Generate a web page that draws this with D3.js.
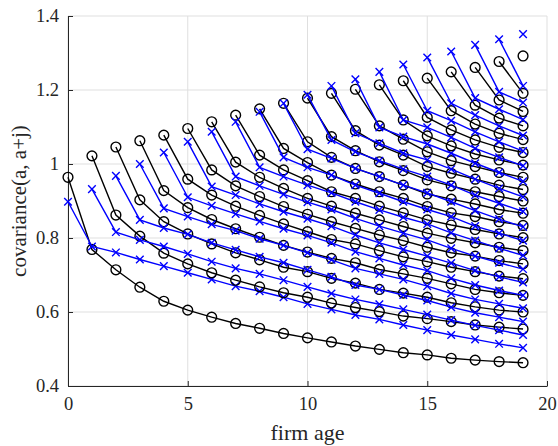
<!DOCTYPE html>
<html>
<head>
<meta charset="utf-8">
<script src="https://cdn.jsdelivr.net/npm/d3@7"></script>
<style>
  body { margin: 0; background: #fff; }
  text { font-family: "Liberation Serif", "DejaVu Serif", serif; fill: #262626; }
</style>
</head>
<body>
<div id="graphic"></div>
<script>
// ages at which each line starts (line a runs from age a to 19)
var ages = d3.range(0, 20);

// black (circles): covariance(a, a+j), one array per starting age a
var dataCov = [
  [0.964, 0.769, 0.714, 0.667, 0.629, 0.605, 0.586, 0.569, 0.556, 0.542, 0.530, 0.519, 0.508, 0.499, 0.490, 0.484, 0.475, 0.470, 0.466, 0.463],
  [1.022, 0.862, 0.805, 0.759, 0.730, 0.706, 0.686, 0.668, 0.652, 0.640, 0.624, 0.612, 0.601, 0.589, 0.582, 0.574, 0.565, 0.559, 0.554],
  [1.046, 0.903, 0.844, 0.811, 0.784, 0.760, 0.741, 0.721, 0.709, 0.691, 0.678, 0.661, 0.651, 0.640, 0.625, 0.614, 0.605, 0.600],
  [1.063, 0.928, 0.882, 0.850, 0.825, 0.802, 0.780, 0.762, 0.745, 0.733, 0.715, 0.703, 0.691, 0.676, 0.661, 0.652, 0.645],
  [1.078, 0.959, 0.916, 0.886, 0.861, 0.838, 0.817, 0.796, 0.784, 0.766, 0.749, 0.736, 0.721, 0.709, 0.697, 0.690],
  [1.096, 0.984, 0.941, 0.912, 0.885, 0.864, 0.844, 0.826, 0.808, 0.793, 0.775, 0.760, 0.751, 0.739, 0.730],
  [1.114, 1.005, 0.964, 0.934, 0.907, 0.886, 0.867, 0.849, 0.831, 0.813, 0.799, 0.787, 0.775, 0.766],
  [1.132, 1.024, 0.984, 0.955, 0.925, 0.907, 0.886, 0.868, 0.849, 0.835, 0.823, 0.811, 0.801],
  [1.149, 1.042, 1.004, 0.970, 0.946, 0.925, 0.907, 0.885, 0.868, 0.858, 0.844, 0.834],
  [1.164, 1.060, 1.018, 0.988, 0.966, 0.943, 0.919, 0.905, 0.892, 0.877, 0.867],
  [1.178, 1.074, 1.036, 1.006, 0.982, 0.957, 0.941, 0.925, 0.912, 0.900],
  [1.191, 1.090, 1.051, 1.024, 0.993, 0.975, 0.959, 0.943, 0.931],
  [1.202, 1.103, 1.067, 1.033, 1.009, 0.993, 0.977, 0.964],
  [1.214, 1.119, 1.076, 1.049, 1.027, 1.011, 0.997],
  [1.225, 1.126, 1.092, 1.065, 1.045, 1.031],
  [1.232, 1.144, 1.108, 1.083, 1.066],
  [1.249, 1.159, 1.124, 1.103],
  [1.261, 1.173, 1.142],
  [1.277, 1.191],
  [1.292]
];

// blue (crosses): model covariance(a, a+j)
var modelCov = [
  [0.898, 0.777, 0.761, 0.742, 0.724, 0.706, 0.688, 0.670, 0.656, 0.640, 0.622, 0.607, 0.592, 0.580, 0.565, 0.551, 0.538, 0.526, 0.514, 0.503],
  [0.932, 0.816, 0.795, 0.777, 0.757, 0.736, 0.718, 0.703, 0.686, 0.668, 0.650, 0.634, 0.621, 0.607, 0.593, 0.578, 0.564, 0.551, 0.538],
  [0.968, 0.849, 0.827, 0.810, 0.787, 0.768, 0.749, 0.733, 0.714, 0.695, 0.673, 0.661, 0.646, 0.631, 0.613, 0.598, 0.586, 0.574],
  [1.000, 0.880, 0.858, 0.837, 0.820, 0.798, 0.780, 0.760, 0.741, 0.718, 0.703, 0.688, 0.670, 0.650, 0.634, 0.622, 0.610],
  [1.031, 0.910, 0.887, 0.865, 0.845, 0.825, 0.807, 0.787, 0.763, 0.745, 0.727, 0.712, 0.691, 0.673, 0.658, 0.645],
  [1.060, 0.939, 0.916, 0.892, 0.871, 0.852, 0.832, 0.808, 0.787, 0.769, 0.751, 0.732, 0.712, 0.695, 0.680],
  [1.087, 0.966, 0.941, 0.918, 0.897, 0.877, 0.853, 0.832, 0.813, 0.795, 0.772, 0.751, 0.733, 0.716],
  [1.114, 0.991, 0.966, 0.943, 0.922, 0.898, 0.876, 0.856, 0.838, 0.814, 0.793, 0.772, 0.753],
  [1.141, 1.018, 0.991, 0.970, 0.943, 0.921, 0.898, 0.877, 0.858, 0.832, 0.813, 0.793],
  [1.164, 1.040, 1.015, 0.988, 0.966, 0.943, 0.922, 0.898, 0.874, 0.851, 0.830],
  [1.187, 1.065, 1.033, 1.009, 0.986, 0.966, 0.943, 0.916, 0.894, 0.872],
  [1.211, 1.083, 1.056, 1.029, 1.011, 0.986, 0.959, 0.934, 0.911],
  [1.229, 1.099, 1.074, 1.054, 1.029, 1.002, 0.977, 0.953],
  [1.249, 1.119, 1.099, 1.072, 1.042, 1.018, 0.995],
  [1.269, 1.144, 1.117, 1.087, 1.060, 1.035],
  [1.288, 1.164, 1.132, 1.103, 1.077],
  [1.304, 1.178, 1.148, 1.120],
  [1.322, 1.195, 1.166],
  [1.337, 1.211],
  [1.351]
];

var xTicks = [0, 5, 10, 15, 20];
var yTicks = [0.4, 0.6, 0.8, 1, 1.2, 1.4];

var w = 558, h = 446;
var padL = 68, padR = 547, padT = 16, padB = 386;

var svg = d3.select("#graphic")
    .append("svg")
    .attr("width", w)
    .attr("height", h);

var xScale = d3.scaleLinear().domain([0, 20]).range([padL, padR]);
var yScale = d3.scaleLinear().domain([0.4, 1.4]).range([padB, padT]);

// grid
svg.append("g")
   .selectAll("line")
   .data(xTicks)
   .enter().append("line")
   .attr("x1", function(d){ return xScale(d); })
   .attr("x2", function(d){ return xScale(d); })
   .attr("y1", padT).attr("y2", padB)
   .attr("stroke", "#dfdfdf").attr("stroke-width", 1);
svg.append("g")
   .selectAll("line")
   .data(yTicks)
   .enter().append("line")
   .attr("y1", function(d){ return yScale(d); })
   .attr("y2", function(d){ return yScale(d); })
   .attr("x1", padL).attr("x2", padR)
   .attr("stroke", "#dfdfdf").attr("stroke-width", 1);

// axes (ticks point inward like matlab)
var xAxis = svg.append("g")
   .attr("transform", "translate(0," + padB + ")")
   .call(d3.axisBottom(xScale).tickValues(xTicks).tickSizeInner(-5).tickSizeOuter(0).tickPadding(11));
var yAxis = svg.append("g")
   .attr("transform", "translate(" + padL + ",0)")
   .call(d3.axisLeft(yScale).tickValues(yTicks).tickSizeInner(-5).tickSizeOuter(0).tickPadding(9)
         .tickFormat(function(d){ return d === 1 ? "1" : d3.format(".1f")(d); }));
[xAxis, yAxis].forEach(function(g){
    g.select(".domain").attr("stroke", "#262626").attr("stroke-width", 1);
    g.selectAll(".tick line").attr("stroke", "#262626");
    g.selectAll(".tick text").attr("fill", "#262626")
     .style("font-family", "'Liberation Serif', serif").style("font-size", "18.5px");
});

var line = d3.line()
    .x(function(d){ return xScale(d[0]); })
    .y(function(d){ return yScale(d[1]); });

function pts(a, arr){
    return arr.map(function(v, j){ return [a + j, v]; });
}

var plot = svg.append("g");
ages.forEach(function(a){
    var blk = pts(a, dataCov[a]);
    var blu = pts(a, modelCov[a]);

    plot.append("path").attr("d", line(blk))
        .attr("fill", "none").attr("stroke", "#000").attr("stroke-width", 1.4);
    plot.append("g").selectAll("circle")
        .data(blk).enter().append("circle")
        .attr("cx", function(d){ return xScale(d[0]); })
        .attr("cy", function(d){ return yScale(d[1]); })
        .attr("r", 4.9)
        .attr("fill", "none").attr("stroke", "#000").attr("stroke-width", 1.4);

    plot.append("path").attr("d", line(blu))
        .attr("fill", "none").attr("stroke", "#0000ff").attr("stroke-width", 1.4);
    plot.append("g").selectAll("path")
        .data(blu).enter().append("path")
        .attr("d", function(d){
            var cx = xScale(d[0]), cy = yScale(d[1]), s = 3.8;
            return "M" + (cx - s) + "," + (cy - s) + "L" + (cx + s) + "," + (cy + s) +
                   "M" + (cx - s) + "," + (cy + s) + "L" + (cx + s) + "," + (cy - s);
        })
        .attr("stroke", "#0000ff").attr("stroke-width", 1.4);
});

// labels
svg.append("text")
   .attr("x", (padL + padR) / 2).attr("y", 440)
   .attr("text-anchor", "middle")
   .style("font-size", "22px")
   .text("firm age");
svg.append("text")
   .attr("transform", "translate(26," + ((padT + padB) / 2) + ") rotate(-90)")
   .attr("text-anchor", "middle")
   .style("font-size", "21px")
   .text("covariance(a, a+j)");
</script>
</body>
</html>
